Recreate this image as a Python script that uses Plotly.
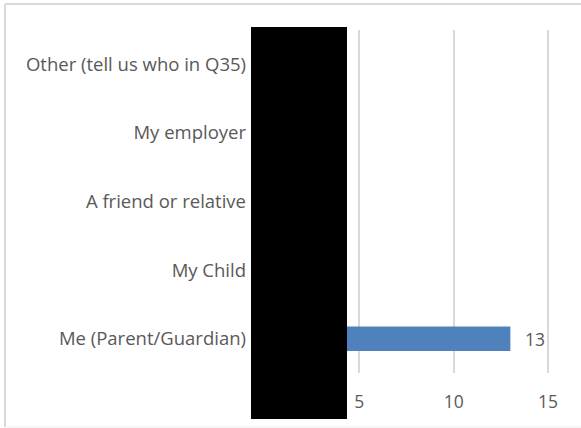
import plotly.graph_objects as go

# Survey responses: who is completing the form
categories = [
    "Me (Parent/Guardian)",
    "My Child",
    "A friend or relative",
    "My employer",
    "Other (tell us who in Q35)",
]
responses = [13, 0, 0, 0, 0]
tick_values = [0, 5, 10, 15]

W, H = 581, 428
L, R, T, B = 265, 31, 30, 55
PW, PH = W - L - R, H - T - B


def px_x(px):
    return (px - L) / PW


def px_y(py):
    return (H - B - py) / PH


TEXT = "#595959"
FONT = "Open Sans"
SIZE = 18.5

fig = go.Figure(
    go.Bar(
        y=categories,
        x=responses,
        orientation="h",
        marker=dict(color="#4F81BD", line=dict(width=0)),
        width=0.355,
        hoverinfo="x+y",
    )
)

# value labels to the right of each visible bar
for cat, val in zip(categories, responses):
    if val > 0:
        fig.add_annotation(
            x=val,
            y=cat,
            text=str(val),
            xanchor="left",
            yanchor="middle",
            xshift=13,
            showarrow=False,
            font=dict(family=FONT, size=SIZE - 1, color=TEXT),
        )

frame = dict(color="#D9D9D9", width=2)
fig.update_layout(
    width=W,
    height=H,
    margin=dict(l=L, r=R, t=T, b=B),
    paper_bgcolor="white",
    plot_bgcolor="white",
    showlegend=False,
    font=dict(family=FONT, size=SIZE, color=TEXT),
    xaxis=dict(
        range=[0, 15.1],
        tickvals=tick_values,
        showgrid=True,
        gridcolor="#D9D9D9",
        gridwidth=2,
        zeroline=False,
        showline=False,
        ticks="",
        ticklabelstandoff=16,
        tickfont=dict(family=FONT, size=SIZE - 1, color=TEXT),
    ),
    yaxis=dict(
        categoryorder="array",
        categoryarray=categories,
        showgrid=False,
        zeroline=False,
        showline=False,
        ticks="",
        ticklabelstandoff=18,
        tickfont=dict(family=FONT, size=SIZE, color=TEXT),
    ),
    shapes=[
        # outer chart frame: top, left and bottom edges
        dict(type="line", xref="paper", yref="paper",
             x0=px_x(5), x1=px_x(W), y0=px_y(4), y1=px_y(4), line=frame),
        dict(type="line", xref="paper", yref="paper",
             x0=px_x(5), x1=px_x(5), y0=px_y(4), y1=px_y(427), line=frame),
        dict(type="line", xref="paper", yref="paper",
             x0=px_x(5), x1=px_x(W), y0=px_y(427), y1=px_y(427),
             line=dict(color="#EDEDED", width=1)),
        # redaction block over the axis origin
        dict(
            type="rect",
            xref="paper",
            yref="paper",
            x0=px_x(251),
            x1=px_x(347),
            y0=px_y(419),
            y1=px_y(27),
            line=dict(width=0),
            fillcolor="black",
            layer="above",
        ),
    ],
)

fig.write_html("out.html")
